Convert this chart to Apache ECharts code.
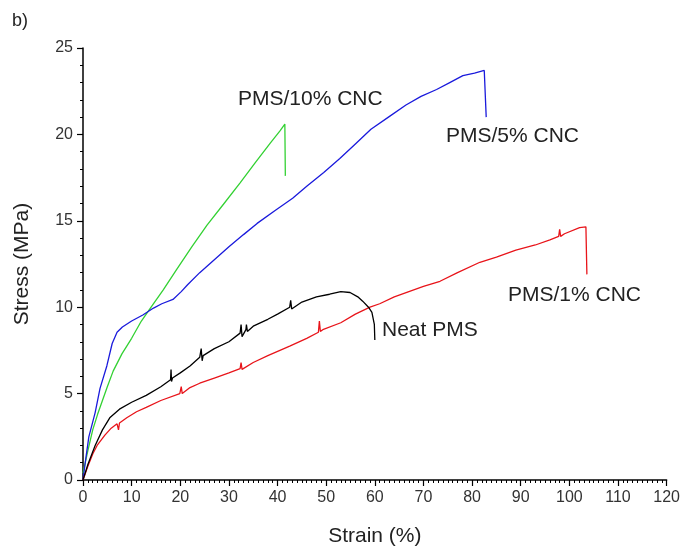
<!DOCTYPE html>
<html><head><meta charset="utf-8">
<script src="https://cdn.jsdelivr.net/npm/echarts@6/dist/echarts.min.js"></script>
<style>html,body{margin:0;padding:0;background:#fff}#c{width:683px;height:552px}</style>
</head><body><div id="c"></div>
<script>
// Strain (%) / Stress (MPa) pairs
const neatPMS = [[0,0],[1,0.9],[2.5,2.0],[4,2.9],[5.5,3.6],[7.5,4.1],[10,4.5],[13,4.9],[16,5.4],[18,5.8],[18.1,6.4],[18.2,5.7],[18.4,5.9],[20,6.2],[22,6.6],[24,7.1],[24.3,7.6],[24.5,6.9],[24.7,7.2],[27,7.6],[30,8.0],[32.3,8.5],[32.5,9.0],[32.7,8.3],[33.5,8.7],[33.6,9.0],[33.8,8.6],[35,8.9],[38,9.3],[40,9.6],[42.5,10.0],[42.7,10.4],[42.9,9.9],[45,10.3],[48,10.6],[50.7,10.75],[53,10.9],[54.9,10.85],[56.5,10.6],[57.5,10.35],[58.7,10.0],[59.4,9.7],[59.9,9.0],[60,8.1]];
const pms1 = [[0,0],[1,0.8],[2,1.5],[2.9,2.0],[4.5,2.6],[5.8,3.0],[7,3.25],[7.3,2.9],[7.5,3.3],[9,3.6],[11,3.95],[13,4.2],[16,4.6],[19.9,5.0],[20.2,5.4],[20.4,5.0],[22,5.35],[24,5.6],[27,5.9],[30,6.2],[32.3,6.45],[32.5,6.8],[32.7,6.4],[35,6.8],[38,7.2],[42.5,7.75],[46,8.2],[48.4,8.55],[48.6,9.2],[48.8,8.6],[49.3,8.7],[53,9.1],[56,9.6],[59,10.0],[61,10.2],[64,10.6],[67,10.9],[70,11.2],[73.4,11.5],[77,12.0],[81.6,12.6],[85,12.9],[89,13.3],[93,13.6],[96,13.9],[97.8,14.1],[98,14.5],[98.2,14.1],[99,14.25],[102.1,14.6],[103.4,14.65],[103.6,11.9]];
const pms5 = [[0,0],[0.6,1.3],[1.2,2.5],[2.5,3.9],[3.5,5.3],[4.9,6.6],[6,7.9],[7,8.55],[8.1,8.85],[10,9.2],[12.3,9.55],[14.5,9.95],[16.2,10.2],[18.5,10.45],[20.2,10.9],[21.5,11.3],[24,12.0],[27,12.75],[30,13.5],[33,14.2],[35.8,14.85],[39.5,15.6],[43.1,16.3],[46,17.0],[49.5,17.8],[52.8,18.6],[56,19.45],[59.2,20.3],[62.8,21.0],[66.4,21.7],[69.5,22.2],[72.7,22.6],[75.4,23.0],[78.1,23.4],[80.5,23.55],[82.5,23.7],[82.8,23.8],[82.9,21.0]];
const pms10 = [[0,0.4],[1,1.7],[2,2.9],[3,3.8],[4,4.6],[5,5.4],[6.2,6.3],[8,7.3],[10,8.2],[12,9.2],[14,10.0],[16.5,11.0],[19.3,12.2],[22.4,13.5],[25.5,14.75],[29,16.0],[32.3,17.2],[35.5,18.4],[38.5,19.5],[40.5,20.2],[41.5,20.6],[41.6,17.6]];
const seriesNames = ['Neat PMS','PMS/1% CNC','PMS/5% CNC','PMS/10% CNC'];
const seriesColors = ['#000000','#e8141a','#1a1adc','#33d133'];
const xTicks = {min:0,max:120,interval:10};
const yTicks = {min:0,max:25,interval:5};

const chart = echarts.init(document.getElementById('c'), null, {renderer:'canvas'});
const font = 'Liberation Sans, Arial, sans-serif';
const datasets = [neatPMS, pms1, pms5, pms10];
chart.setOption({
  animation:false,
  backgroundColor:'#fff',
  grid:{left:83,right:16,top:48,bottom:71,containLabel:false},
  xAxis:{type:'value',min:xTicks.min,max:xTicks.max,interval:xTicks.interval,
    name:'Strain (%)',nameLocation:'middle',nameGap:46,
    nameTextStyle:{fontFamily:font,fontSize:21,color:'#222'},
    axisLine:{lineStyle:{color:'#000',width:1.5}},
    axisTick:{length:6,lineStyle:{color:'#000',width:1.2}},
    minorTick:{show:true,splitNumber:10,length:3,lineStyle:{color:'#000',width:1}},
    splitLine:{show:false},
    axisLabel:{fontFamily:font,fontSize:16,color:'#333',margin:10}},
  yAxis:{type:'value',min:yTicks.min,max:yTicks.max,interval:yTicks.interval,
    name:'Stress (MPa)',nameLocation:'middle',nameGap:50,
    nameTextStyle:{fontFamily:font,fontSize:21,color:'#222'},
    axisLine:{show:true,lineStyle:{color:'#000',width:1.5}},
    axisTick:{show:true,length:6,lineStyle:{color:'#000',width:1.2}},
    minorTick:{show:true,splitNumber:5,length:3,lineStyle:{color:'#000',width:1}},
    splitLine:{show:false},
    axisLabel:{fontFamily:font,fontSize:16,color:'#333',margin:10}},
  series: datasets.map((d,i)=>({type:'line',name:seriesNames[i],data:d,showSymbol:false,
    lineStyle:{color:seriesColors[i],width:1.3},itemStyle:{color:seriesColors[i]},z:4-i})),
  graphic:[
    {type:'text',left:12,top:12,style:{text:'b)',font:'18px '+font,fill:'#222'}},
    {type:'text',left:238,top:89,style:{text:'PMS/10% CNC',font:'21px '+font,fill:'#222'}},
    {type:'text',left:446,top:126,style:{text:'PMS/5% CNC',font:'21px '+font,fill:'#222'}},
    {type:'text',left:508,top:285,style:{text:'PMS/1% CNC',font:'21px '+font,fill:'#222'}},
    {type:'text',left:382,top:320,style:{text:'Neat PMS',font:'21px '+font,fill:'#222'}}
  ]
});
</script></body></html>
